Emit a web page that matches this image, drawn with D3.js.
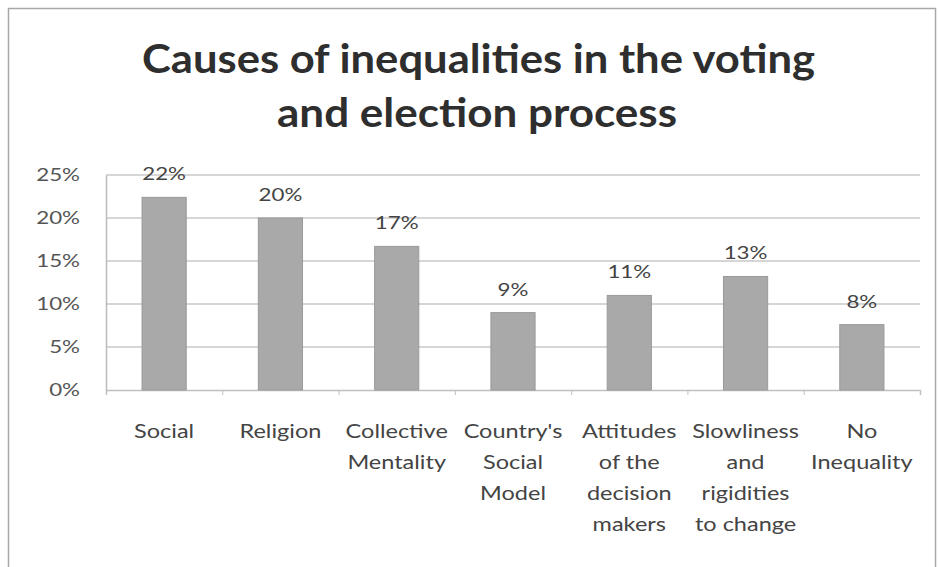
<!DOCTYPE html>
<html><head><meta charset="utf-8">
<script src="https://cdn.jsdelivr.net/npm/d3@7"></script>
<style>body{margin:0;background:#fff;} svg{display:block;}</style>
</head><body>
<svg id="chart" width="939" height="567"></svg>
<script>
const titleLines = ["Causes of inequalities in the voting", "and election process"];
const categories = [
  ["Social"],
  ["Religion"],
  ["Collective", "Mentality"],
  ["Country's", "Social", "Model"],
  ["Attitudes", "of the", "decision", "makers"],
  ["Slowliness", "and", "rigidities", "to change"],
  ["No", "Inequality"]
];
const values = [0.224, 0.20, 0.167, 0.09, 0.11, 0.132, 0.076];
const valueLabels = ["22%", "20%", "17%", "9%", "11%", "13%", "8%"];
const yTicks = [0, 0.05, 0.10, 0.15, 0.20, 0.25];

const svg = d3.select("#chart");
const font = "Lato, 'Open Sans', sans-serif";
const m = {left: 106, right: 920, top: 175, bottom: 390};
const stretch = 1.24;

function widen(sel, k) {
  sel.each(function () {
    const len = this.getComputedTextLength();
    d3.select(this).attr("textLength", len * k).attr("lengthAdjust", "spacingAndGlyphs");
  });
}

// frame
svg.append("rect").attr("x", 8.5).attr("y", 8.5).attr("width", 927).attr("height", 570)
  .attr("fill", "#fff").attr("stroke", "#a8a8a8").attr("stroke-width", 1.5);

// title
const titleBaselines = [73, 127];
const titleWidths = [673, 400];
const titleCenters = [478.5, 477];
titleLines.forEach((t, i) => {
  svg.append("text").attr("x", titleCenters[i]).attr("y", titleBaselines[i])
    .attr("text-anchor", "middle").attr("font-family", font).attr("font-weight", "bold")
    .attr("font-size", 41).attr("fill", "#2e2e2e")
    .attr("textLength", titleWidths[i]).attr("lengthAdjust", "spacingAndGlyphs").text(t);
});

const x = d3.scaleBand().domain(d3.range(categories.length)).range([m.left, m.right]).paddingInner(0.62).paddingOuter(0.31);
const y = d3.scaleLinear().domain([0, 0.25]).range([m.bottom, m.top]);

// gridlines
svg.append("g").selectAll("line").data(yTicks.slice(1)).join("line")
  .attr("x1", m.left).attr("x2", m.right).attr("y1", d => y(d)).attr("y2", d => y(d))
  .attr("stroke", "#c8c8c8").attr("stroke-width", 1.5);

// y axis
const yAxis = d3.axisLeft(y).tickValues(yTicks).tickFormat(d3.format(".0%")).tickSize(0).tickPadding(26);
const gy = svg.append("g").attr("transform", `translate(${m.left},0)`).call(yAxis);
gy.select(".domain").attr("stroke", "#bbb").attr("stroke-width", 1.5);
gy.selectAll("text").attr("font-family", font).attr("font-size", 18).attr("fill", "#555").call(widen, stretch);

// x axis line and ticks
const xb = d3.scaleLinear().domain([0, categories.length]).range([m.left, m.right]);
const gx = svg.append("g").attr("transform", `translate(0,${m.bottom})`)
  .call(d3.axisBottom(xb).ticks(categories.length).tickFormat("").tickSize(5));
gx.select(".domain").attr("stroke", "#c0c0c0").attr("stroke-width", 1.5);
gx.selectAll(".tick line").attr("stroke", "#c0c0c0");

// bars
svg.append("g").selectAll("rect").data(values).join("rect")
  .attr("x", (d, i) => x(i)).attr("width", x.bandwidth())
  .attr("y", d => y(d)).attr("height", d => y(0) - y(d))
  .attr("fill", "#a9a9a9").attr("stroke", "#9a9a9a").attr("stroke-width", 1);

// value labels
svg.append("g").selectAll("text").data(values).join("text")
  .attr("x", (d, i) => x(i) + x.bandwidth() / 2).attr("y", d => y(d) - 17)
  .attr("text-anchor", "middle").attr("font-family", font).attr("font-size", 18).attr("fill", "#444")
  .text((d, i) => valueLabels[i]).call(widen, stretch);

// category labels
const cl = svg.append("g");
categories.forEach((lines, i) => {
  lines.forEach((t, j) => {
    cl.append("text").attr("x", x(i) + x.bandwidth() / 2).attr("y", 438 + j * 31)
      .attr("text-anchor", "middle").attr("font-family", font).attr("font-size", 18.5).attr("fill", "#444")
      .text(t);
  });
});
cl.selectAll("text").call(widen, 1.27);
</script>
</body></html>
